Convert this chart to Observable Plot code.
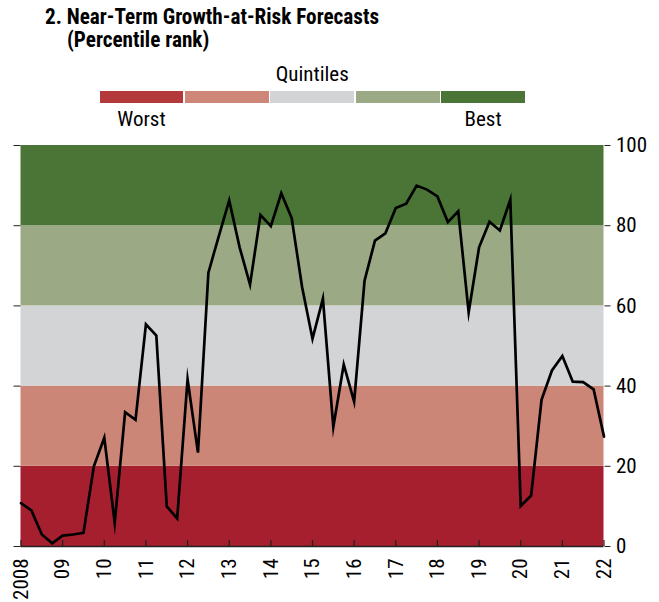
<!DOCTYPE html>
<html><head><meta charset="utf-8">
<script src="https://cdn.jsdelivr.net/npm/d3@7"></script>
<script src="https://cdn.jsdelivr.net/npm/@observablehq/plot@0.6"></script>
<style>
body{margin:0;background:#fff;}
#wrap{position:relative;width:659px;height:602px;font-family:"Liberation Sans Narrow","Arial Narrow","Roboto Condensed","DejaVu Sans Condensed",sans-serif;color:#000;}
#head{position:relative;height:135px;}
.t{position:absolute;white-space:nowrap;line-height:1;}
.bar{position:absolute;top:91px;height:12px;}
</style></head><body>
<div id="wrap"><div id="head"></div><div id="chart"></div></div>
<script>
// Data (quarterly percentile rank, 2008Q1 - 2022Q1)
const quarters = [
 "2008Q1","2008Q2","2008Q3","2008Q4","2009Q1","2009Q2","2009Q3","2009Q4",
 "2010Q1","2010Q2","2010Q3","2010Q4","2011Q1","2011Q2","2011Q3","2011Q4",
 "2012Q1","2012Q2","2012Q3","2012Q4","2013Q1","2013Q2","2013Q3","2013Q4",
 "2014Q1","2014Q2","2014Q3","2014Q4","2015Q1","2015Q2","2015Q3","2015Q4",
 "2016Q1","2016Q2","2016Q3","2016Q4","2017Q1","2017Q2","2017Q3","2017Q4",
 "2018Q1","2018Q2","2018Q3","2018Q4","2019Q1","2019Q2","2019Q3","2019Q4",
 "2020Q1","2020Q2","2020Q3","2020Q4","2021Q1","2021Q2","2021Q3","2021Q4",
 "2022Q1"];
const values = [
 10.8, 9.0, 3.0, 0.8, 2.7, 3.0, 3.4, 20.0,
 27.1, 5.9, 33.5, 31.6, 55.4, 52.6, 10.0, 7.0,
 41.7, 23.4, 68.3, 77.4, 86.3, 74.6, 65.3, 82.7,
 79.9, 88.1, 81.9, 64.7, 51.8, 61.8, 29.8, 45.4,
 36.1, 66.3, 76.3, 78.1, 84.4, 85.5, 90.0, 89.0,
 87.3, 80.9, 83.6, 58.4, 74.6, 81.0, 78.8, 86.5,
 10.1, 12.7, 36.6, 43.9, 47.5, 41.1, 41.0, 39.2,
 27.4];
const bandLower = [0, 20, 40, 60, 80];
const bandUpper = [20, 40, 60, 80, 100];
const bandColors = ["#a61f2e", "#cc8677", "#d3d4d6", "#9baa85", "#4a7536"];
const legendColors = ["#b3393b", "#cd8677", "#d3d4d6", "#9baa85", "#4a7536"];
const legendLabels = ["Worst", "", "", "", "Best"];
const yTicks = [0, 20, 40, 60, 80, 100];
const yearTicks = [2008, 2009, 2010, 2011, 2012, 2013, 2014, 2015, 2016, 2017, 2018, 2019, 2020, 2021, 2022];
const yearLabels = ["2008", "09", "10", "11", "12", "13", "14", "15", "16", "17", "18", "19", "20", "21", "22"];
const title = "2. Near-Term Growth-at-Risk Forecasts";
const subtitle = "(Percentile rank)";
const legendTitle = "Quintiles";

const FONT = '"Liberation Sans Narrow","Arial Narrow","Roboto Condensed","DejaVu Sans Condensed",sans-serif';

// Header
const head = document.getElementById("head");
function addText(txt, left, baseline, size, bold, center) {
  const d = document.createElement("div");
  d.className = "t";
  d.textContent = txt;
  d.style.fontSize = size + "px";
  d.style.fontWeight = bold ? "bold" : "normal";
  d.style.top = (baseline - 0.8465 * size) + "px";
  d.style.left = left + "px";
  if (center) d.style.transform = "translateX(-50%)";
  head.appendChild(d);
}
addText(title, 45, 24, 21.2, true, false);
addText(subtitle, 67, 47, 21.2, true, false);
const legX0 = 99.5, legX1 = 525, gap = 1.5;
const segW = (legX1 - legX0 - gap * (legendColors.length - 1)) / legendColors.length;
addText(legendTitle, (legX0 + legX1) / 2, 81.7, 21, false, true);
legendColors.forEach((c, i) => {
  const b = document.createElement("div");
  b.className = "bar";
  const x = legX0 + i * (segW + gap);
  b.style.left = x + "px";
  b.style.width = segW + "px";
  b.style.background = c;
  head.appendChild(b);
  if (legendLabels[i]) addText(legendLabels[i], x + segW / 2, 126.7, 21, false, true);
});

// Chart
const data = quarters.map((q, i) => ({t: +q.slice(0, 4) + (+q.slice(5) - 1) / 4, v: values[i]}));
const bands = bandLower.map((lo, i) => ({lo, hi: bandUpper[i], c: bandColors[i]}));

const chart = Plot.plot({
  width: 659, height: 467,
  marginTop: 10, marginBottom: 56, marginLeft: 20.5, marginRight: 55.5,
  style: {fontFamily: FONT, fontSize: "21px", color: "#000", background: "#fff", overflow: "visible"},
  x: {domain: [yearTicks[0], yearTicks[yearTicks.length - 1]], label: null},
  y: {domain: [0, 100], label: null},
  color: {type: "identity"},
  marks: [
    Plot.rect(bands, {y1: "lo", y2: "hi", fill: d => d.c}),
    Plot.line(data, {x: "t", y: "v", stroke: "#000", strokeWidth: 2.7, strokeLinejoin: "miter", strokeMiterlimit: 10}),
    Plot.ruleY([0], {stroke: "#222", strokeWidth: 1.5}),
    Plot.ruleX(yearTicks, {y1: 0, y2: 1.5, stroke: "#222", strokeWidth: 1.2}),
    Plot.axisX({ticks: yearTicks, tickFormat: d => yearLabels[yearTicks.indexOf(d)], tickRotate: -90, tickSize: 0, tickPadding: 12, fontSize: 21}),
    Plot.axisY({anchor: "right", ticks: yTicks, tickSize: 6, tickPadding: 6, fontSize: 21, stroke: "#222"}),
    Plot.axisY({anchor: "left", ticks: yTicks, tickSize: 7, tickFormat: () => "", stroke: "#222"})
  ]
});
document.getElementById("chart").appendChild(chart);
</script>
</body></html>
